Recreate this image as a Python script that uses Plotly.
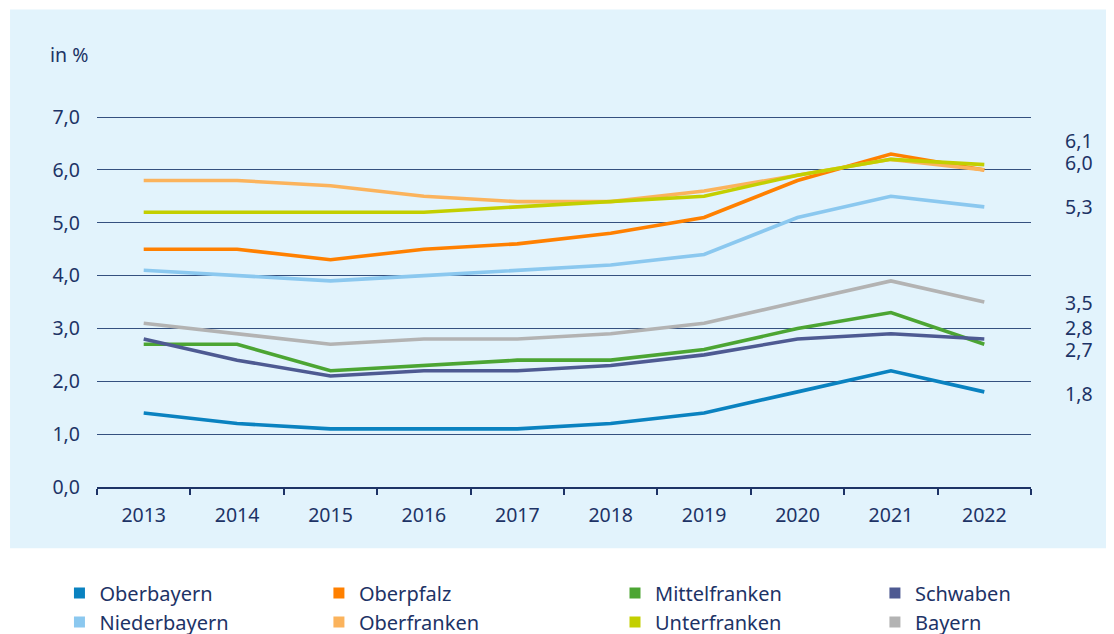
import plotly.graph_objects as go

years = ["2013", "2014", "2015", "2016", "2017", "2018", "2019", "2020", "2021", "2022"]

oberbayern = [1.4, 1.2, 1.1, 1.1, 1.1, 1.2, 1.4, 1.8, 2.2, 1.8]
niederbayern = [4.1, 4.0, 3.9, 4.0, 4.1, 4.2, 4.4, 5.1, 5.5, 5.3]
oberpfalz = [4.5, 4.5, 4.3, 4.5, 4.6, 4.8, 5.1, 5.8, 6.3, 6.0]
oberfranken = [5.8, 5.8, 5.7, 5.5, 5.4, 5.4, 5.6, 5.9, 6.2, 6.0]
mittelfranken = [2.7, 2.7, 2.2, 2.3, 2.4, 2.4, 2.6, 3.0, 3.3, 2.7]
unterfranken = [5.2, 5.2, 5.2, 5.2, 5.3, 5.4, 5.5, 5.9, 6.2, 6.1]
schwaben = [2.8, 2.4, 2.1, 2.2, 2.2, 2.3, 2.5, 2.8, 2.9, 2.8]
bayern = [3.1, 2.9, 2.7, 2.8, 2.8, 2.9, 3.1, 3.5, 3.9, 3.5]

series = [
    ("Oberbayern", oberbayern, "#0a82c0", "legend"),
    ("Niederbayern", niederbayern, "#8bc8ef", "legend"),
    ("Oberpfalz", oberpfalz, "#ff8000", "legend2"),
    ("Oberfranken", oberfranken, "#fbb35c", "legend2"),
    ("Mittelfranken", mittelfranken, "#4ca533", "legend3"),
    ("Unterfranken", unterfranken, "#c3cf00", "legend3"),
    ("Schwaben", schwaben, "#4e5a92", "legend4"),
    ("Bayern", bayern, "#b3b3b3", "legend4"),
]

# end-of-line labels: value and vertical pixel offset
end_label_values = [6.1, 6.0, 5.3, 3.5, 2.8, 2.7, 1.8]
end_label_shift = [24, 7, 0, 0, 12, -5, -2]

TXT = "#1d3366"
FONT = "Noto Sans"
FS = 19.5

fig = go.Figure()

for name, vals, col, lg in series:
    fig.add_trace(go.Scatter(
        x=years, y=vals, mode="lines", name=name,
        line=dict(color=col, width=3.6), showlegend=False,
        hoverinfo="x+y+name",
    ))

for name, vals, col, lg in series:
    fig.add_trace(go.Scatter(
        x=[None], y=[None], mode="markers", name=name,
        marker=dict(symbol="square", size=11, color=col),
        legend=lg, showlegend=True,
    ))

# light blue background panel
fig.add_shape(type="rect", xref="paper", yref="paper",
              x0=-0.0931, x1=1.09, y0=-0.165, y1=1.287,
              fillcolor="#e2f3fc", line=dict(width=0), layer="below")

fig.add_annotation(xref="paper", yref="paper", x=-0.0525, y=1.165,
                   text="in %", showarrow=False, xanchor="left", yanchor="middle",
                   font=dict(family=FONT, size=FS, color=TXT))

for v, s in zip(end_label_values, end_label_shift):
    fig.add_annotation(xref="paper", yref="y", x=1.0343, y=v, yshift=s,
                       text=f"{v:.1f}".replace(".", ","), showarrow=False,
                       xanchor="left", yanchor="middle",
                       font=dict(family=FONT, size=FS, color=TXT))

legend_common = dict(orientation="v", yref="container", yanchor="top", y=0.108,
                     xanchor="left",
                     bgcolor="rgba(0,0,0,0)", font=dict(family=FONT, size=20, color=TXT),
                     tracegroupgap=0, itemclick=False, itemdoubleclick=False)

fig.update_layout(
    width=1114, height=634,
    margin=dict(l=89, r=91, t=108, b=155),
    paper_bgcolor="white",
    plot_bgcolor="rgba(0,0,0,0)",
    separators=",.",
    font=dict(family=FONT, size=FS, color=TXT),
    showlegend=True,
    legend=dict(x=-0.0402, **legend_common),
    legend2=dict(x=0.2376, **legend_common),
    legend3=dict(x=0.5546, **legend_common),
    legend4=dict(x=0.8329, **legend_common),
    xaxis=dict(
        type="category", showgrid=False, zeroline=False,
        showline=True, linecolor="#1d3366", linewidth=2,
        ticks="outside", tickson="boundaries", ticklen=6, tickwidth=2,
        tickcolor="#1d3366", ticklabelstandoff=10,
        tickfont=dict(family=FONT, size=FS, color=TXT),
        range=[-0.5, 9.5], fixedrange=True,
    ),
    yaxis=dict(
        range=[0, 7.02], dtick=1, tick0=0, tickformat=".1f",
        showgrid=True, gridcolor="#34507f", gridwidth=1,
        zeroline=False, showline=False, ticks="",
        ticklabelstandoff=16,
        tickfont=dict(family=FONT, size=FS, color=TXT), fixedrange=True,
    ),
)

fig.write_html("out.html")
